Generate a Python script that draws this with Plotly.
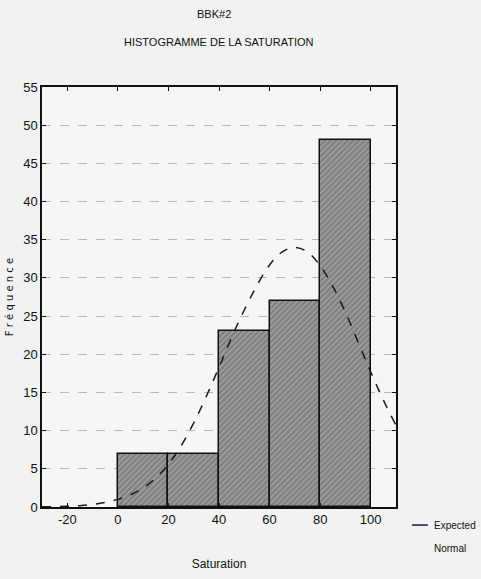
import plotly.graph_objects as go

# Data
bin_left = [0, 20, 40, 60, 80]
bin_width = 20
counts = [7, 7, 23, 27, 48]

curve_x = [-30, -25, -20, -15, -10, -5, 0, 5, 10, 15, 20, 25, 30, 35, 40, 45, 50,
           55, 60, 65, 70, 75, 80, 85, 90, 95, 100, 105, 110]
curve_y = [0.02, 0.05, 0.1, 0.18, 0.33, 0.6, 1.0, 1.6, 2.5, 3.8, 5.6, 8.0, 11.0,
           14.5, 18.3, 22.2, 25.8, 29.0, 31.7, 33.4, 34.0, 33.4, 31.6, 28.9, 25.5,
           21.6, 17.7, 14.0, 10.7]

x_ticks = [-20, 0, 20, 40, 60, 80, 100]
y_ticks = [0, 5, 10, 15, 20, 25, 30, 35, 40, 45, 50, 55]

FONT = "Liberation Sans Narrow, Liberation Sans, Arial, sans-serif"

fig = go.Figure()
fig.add_trace(go.Bar(
    x=[b + bin_width / 2 for b in bin_left],
    y=counts,
    width=[bin_width] * len(counts),
    marker=dict(
        color="#808080",
        line=dict(color="#111111", width=1.5),
        pattern=dict(shape="/", fgcolor="#d0d0d0", size=4, solidity=0.3),
    ),
    showlegend=False,
))
fig.add_trace(go.Scatter(
    x=curve_x, y=curve_y, mode="lines",
    line=dict(color="#1a1a1a", width=1.5, dash="dash", shape="spline"),
    name="Expected Normal",
    showlegend=False,
))

fig.update_layout(
    width=481, height=579,
    margin=dict(l=42, r=85, t=87, b=72, autoexpand=False),
    paper_bgcolor="#f2f2f2",
    plot_bgcolor="#f6f6f6",
    font=dict(family=FONT, size=13, color="#111111"),
    bargap=0,
    showlegend=False,
)
fig.add_annotation(text="BBK#2", xref="paper", yref="paper", x=0.485, y=1,
                   yanchor="middle", yshift=73, showarrow=False,
                   font=dict(family=FONT, size=11))
fig.add_annotation(text="HISTOGRAMME DE LA SATURATION", xref="paper", yref="paper",
                   x=0.5, y=1, yanchor="middle", yshift=45, showarrow=False,
                   font=dict(family=FONT, size=11))

# manual legend (line sample + two text lines)
fig.add_shape(type="line", xref="paper", yref="paper",
              x0=1.045, x1=1.09, y0=-0.043, y1=-0.043,
              line=dict(color="#1a1a3a", width=1.5))
fig.add_annotation(text="Expected", xref="paper", yref="paper", x=1.103, y=-0.043,
                   xanchor="left", yanchor="middle", showarrow=False,
                   font=dict(family=FONT, size=10))
fig.add_annotation(text="Normal", xref="paper", yref="paper", x=1.103, y=-0.098,
                   xanchor="left", yanchor="middle", showarrow=False,
                   font=dict(family=FONT, size=10))

fig.update_xaxes(
    range=[-30, 110], tickvals=x_ticks, ticktext=[str(v) for v in x_ticks],
    showgrid=False, zeroline=False, automargin=False,
    showline=True, linecolor="#111111", linewidth=1.5, mirror="ticks",
    ticks="inside", ticklen=4, tickcolor="#111111",
    tickfont=dict(family=FONT, size=13),
    title=dict(text="Saturation", font=dict(family=FONT, size=12), standoff=33),
)
fig.update_yaxes(
    range=[0, 55], tickvals=y_ticks, automargin=False,
    showgrid=True, gridcolor="#b8b8b8", griddash="dash", gridwidth=1,
    zeroline=False,
    showline=True, linecolor="#111111", linewidth=1.5, mirror="ticks",
    ticks="inside", ticklen=4, tickcolor="#111111",
    tickfont=dict(family=FONT, size=13),
    title=dict(text="F r é q u e n c e", font=dict(family="DejaVu Sans, sans-serif", size=10), standoff=8),
)

fig.write_html(
    "out.html",
    config={"displayModeBar": False},
    post_script="document.body.style.margin='0';document.body.style.overflow='hidden';",
)
